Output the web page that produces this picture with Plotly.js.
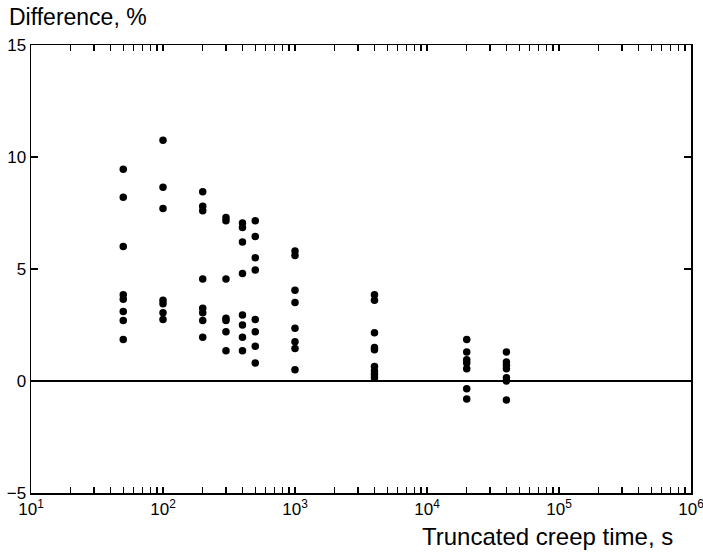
<!DOCTYPE html>
<html>
<head>
<meta charset="utf-8">
<script src="https://cdn.plot.ly/plotly-3.0.1.min.js"></script>
<style>html,body{margin:0;padding:0;background:#fff;}#chart{width:703px;height:554px;}</style>
</head>
<body>
<div id="chart"></div>
<script>
// Truncated creep times (s)
const times = [50, 100, 200, 300, 400, 500, 1000, 4000, 20000, 40000];
// Difference values (%) at each truncated creep time
const diff50    = [9.45, 8.2, 6.0, 3.85, 3.65, 3.1, 2.7, 1.85];
const diff100   = [10.75, 8.65, 7.7, 3.6, 3.45, 3.05, 2.75];
const diff200   = [8.45, 7.8, 7.6, 4.55, 3.25, 3.05, 2.7, 1.95];
const diff300   = [7.3, 7.15, 4.55, 2.8, 2.7, 2.2, 1.35];
const diff400   = [7.05, 6.85, 6.2, 4.8, 2.95, 2.5, 1.95, 1.35];
const diff500   = [7.15, 6.45, 5.5, 4.95, 2.75, 2.2, 1.55, 0.8];
const diff1000  = [5.8, 5.6, 4.05, 3.5, 2.35, 1.75, 1.45, 0.5];
const diff4000  = [3.85, 3.6, 2.15, 1.5, 1.4, 0.65, 0.45, 0.3, 0.15];
const diff20000 = [1.85, 1.3, 0.95, 0.8, 0.55, -0.35, -0.8];
const diff40000 = [1.3, 0.85, 0.7, 0.55, 0.15, 0.0, -0.85];

const groups = [diff50, diff100, diff200, diff300, diff400, diff500, diff1000, diff4000, diff20000, diff40000];
const xs = [], ys = [];
groups.forEach((g, i) => g.forEach(v => { xs.push(times[i]); ys.push(v); }));

const xTickVals = [10, 100, 1000, 10000, 100000, 1000000];
const xTickText = ['10<sup>1</sup>', '10<sup>2</sup>', '10<sup>3</sup>', '10<sup>4</sup>', '10<sup>5</sup>', '10<sup>6</sup>'];
const yTickVals = [-5, 0, 5, 10, 15];

const font = 'Liberation Sans, Arial, Helvetica, sans-serif';

const data = [{
  type: 'scatter', mode: 'markers', x: xs, y: ys,
  marker: {symbol: 'circle', size: 7.5, color: '#000', line: {width: 0}},
  hoverinfo: 'x+y'
}];

const layout = {
  width: 703, height: 554,
  margin: {l: 31, r: 12, t: 45, b: 61},
  paper_bgcolor: '#fff', plot_bgcolor: '#fff',
  showlegend: false,
  font: {family: font, color: '#000', size: 16},
  xaxis: {
    type: 'log', range: [1, 6.0001],
    tickvals: xTickVals, ticktext: xTickText,
    ticklabeloverflow: 'allow',
    ticks: 'inside', ticklen: 6, tickwidth: 1.2, tickcolor: '#000',
    minor: {ticks: 'inside', ticklen: 6, tickwidth: 1.2, tickcolor: '#000', dtick: 'D1', showgrid: false},
    showline: true, linecolor: '#000', linewidth: 1.5, mirror: 'ticks',
    showgrid: false, zeroline: false,
    tickfont: {family: font, size: 17, color: '#000'}
  },
  yaxis: {
    range: [-5, 15],
    tickvals: yTickVals,
    ticks: 'inside', ticklen: 7, tickwidth: 1.2, tickcolor: '#000',
    showline: true, linecolor: '#000', linewidth: 1.5, mirror: 'ticks',
    showgrid: false, zeroline: true, zerolinecolor: '#000', zerolinewidth: 1.5,
    tickfont: {family: font, size: 17, color: '#000'}
  },
  annotations: [
    {text: 'Difference, %', xref: 'paper', yref: 'paper', x: -0.036, y: 1.062,
     xanchor: 'left', yanchor: 'middle', showarrow: false, font: {family: font, size: 23, color: '#000'}},
    {text: 'Truncated creep time, s', xref: 'paper', yref: 'paper', x: 0.976, y: -0.098,
     xanchor: 'right', yanchor: 'middle', showarrow: false, font: {family: font, size: 24, color: '#000'}}
  ]
};

Plotly.newPlot('chart', data, layout, {displayModeBar: false, staticPlot: true});
</script>
</body>
</html>
